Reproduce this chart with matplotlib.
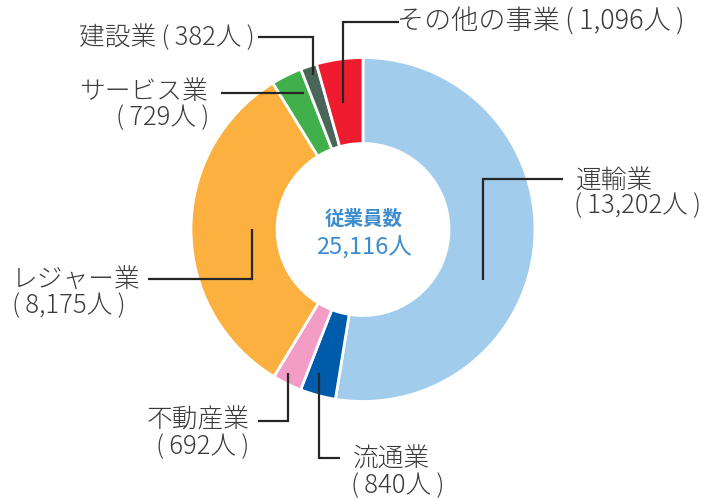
import matplotlib
matplotlib.use("Agg")
import matplotlib.pyplot as plt

plt.rcParams['font.family'] = ['Noto Sans CJK JP', 'DejaVu Sans']

# employees by business segment (clockwise from the top)
segments = ["運輸業", "流通業", "不動産業", "レジャー業", "サービス業", "建設業", "その他の事業"]
employees = [13202, 840, 692, 8175, 729, 382, 1096]
colors = ["#A2CCEC", "#005CAB", "#F29CC6", "#FBB040", "#41B04B", "#4A665A", "#EE1C2E"]
total_title = "従業員数"

# label layout in pixel space: (x, y, ha) for name and count lines, leader polyline
label_layout = {
    "運輸業":      dict(name=(576, 181, "left"), count=(574, 206, "left"),
                       line=[(563, 179), (483, 179), (483, 280)]),
    "流通業":      dict(name=(353, 459, "left"), count=(351, 486, "left"),
                       line=[(340, 458), (319, 458), (319, 373)]),
    "不動産業":    dict(name=(250, 420, "right"), count=(249, 447, "right"),
                       line=[(258, 421), (288, 421), (288, 373)]),
    "レジャー業":  dict(name=(12, 280, "left"), count=(12, 306, "left"),
                       line=[(148, 279), (252, 279), (252, 229)]),
    "サービス業":  dict(name=(208, 92, "right"), count=(209, 118, "right"),
                       line=[(221, 93), (304, 93)]),
    "建設業":      dict(name=(79, 38, "left"), count=None,
                       line=[(258, 37), (313, 37), (313, 75)]),
    "その他の事業": dict(name=(397, 22, "left"), count=None,
                       line=[(399, 22), (343, 22), (343, 103)]),
}

text_color = "#3A3A3A"
label_size = 18.5
thin = "\u2009"
fig = plt.figure(figsize=(7.12, 4.99), dpi=100)
ax = fig.add_axes([0, 0, 1, 1])

ax.pie(employees, colors=colors, radius=172, center=(363, 229.5),
       startangle=-90, counterclock=True,
       wedgeprops=dict(width=86, edgecolor="white", linewidth=2))
ax.set_xlim(0, 712)
ax.set_ylim(499, 0)
ax.set_aspect("equal")
ax.axis("off")

for name, value in zip(segments, employees):
    lay = label_layout[name]
    xs, ys = zip(*lay["line"])
    ax.plot(xs, ys, color="#262626", lw=1.6, solid_capstyle="butt",
            solid_joinstyle="miter")
    count = f"({thin}{value:,}人{thin})"
    if lay["count"] is None:
        x, y, ha = lay["name"]
        size = 19.5 if name == "その他の事業" else label_size
        ax.text(x, y, name + thin + count, fontsize=size, color=text_color,
                ha=ha, va="center", fontweight="light")
    else:
        for (x, y, ha), s in ((lay["name"], name), (lay["count"], count)):
            ax.text(x, y, s, fontsize=label_size, color=text_color,
                    ha=ha, va="center", fontweight="light")

ax.text(364, 219, total_title, fontsize=14, color="#3C8DD0",
        ha="center", va="center", fontweight="bold")
ax.text(364, 247, f"{sum(employees):,}人", fontsize=17, color="#3C8DD0",
        ha="center", va="center")

fig.savefig("out.png", dpi=100)
